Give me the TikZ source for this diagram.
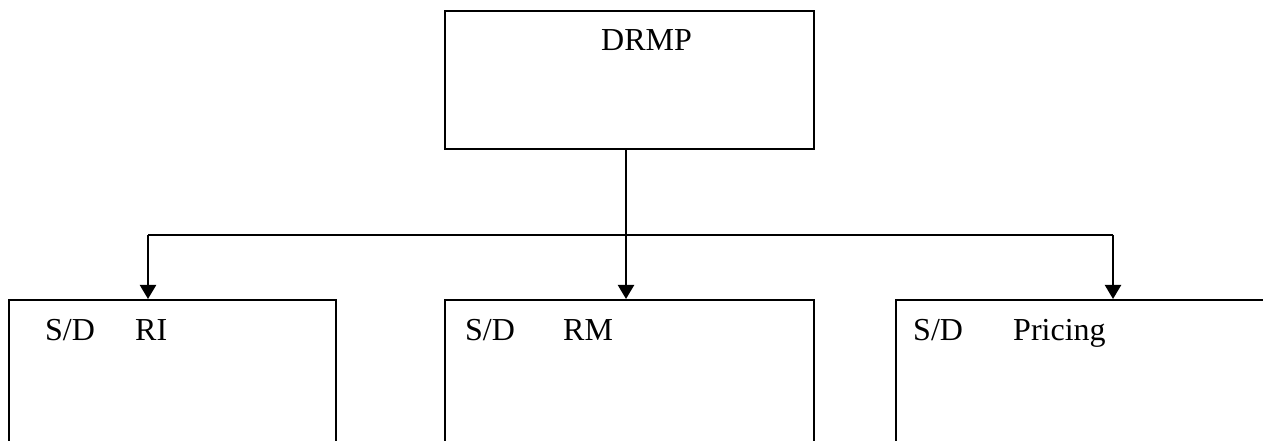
\documentclass[tikz,border=0pt]{standalone}
\usepackage{fontspec}
\setmainfont{Liberation Serif}
\usetikzlibrary{arrows.meta}
\tikzset{
  box/.style={draw, line width=1.8pt, rectangle, inner sep=0pt, anchor=north west},
  lbl/.style={inner sep=0pt, anchor=base west, font=\fontsize{32}{38}\selectfont},
  conn/.style={line width=2.2pt},
  arr/.style={conn, -{Triangle[length=14pt,width=16pt]}}
}
\begin{document}
\begin{tikzpicture}[x=1pt,y=1pt]
  \useasboundingbox (0,0) rectangle (1263,441);
  \clip (0,0) rectangle (1263,441);
  % top box
  \node[box, minimum width=369pt, minimum height=138pt] (drmp) at (444,431) {};
  \node[lbl] (drmpT) at (601,390) {DRMP};
  % lower boxes, running off the bottom edge
  \node[box, minimum width=327pt, minimum height=200pt] (ri) at (8,142) {};
  \node[box, minimum width=369pt, minimum height=200pt] (rm) at (444,142) {};
  \node[box, minimum width=420pt, minimum height=200pt] (pr) at (895,142) {};
  \node[lbl] (riA) at (45,100) {S/D};
  \node[lbl] (riB) at (135,100) {RI};
  \node[lbl] (rmA) at (465,100) {S/D};
  \node[lbl] (rmB) at (563,100) {RM};
  \node[lbl] (prA) at (913,100) {S/D};
  \node[lbl] (prB) at (1013,100) {Pricing};
  % distribution bus
  \coordinate (busM) at (626,206);
  \coordinate (busL) at (148,206);
  \coordinate (busR) at (1113,206);
  \draw[conn] (drmp.south -| busM) -- (busM);
  \draw[conn] (busL) -- (busR);
  \draw[arr] (busL) -- (busL |- ri.north);
  \draw[arr] (busM) -- (busM |- rm.north);
  \draw[arr] (busR) -- (busR |- pr.north);
\end{tikzpicture}
\end{document}
